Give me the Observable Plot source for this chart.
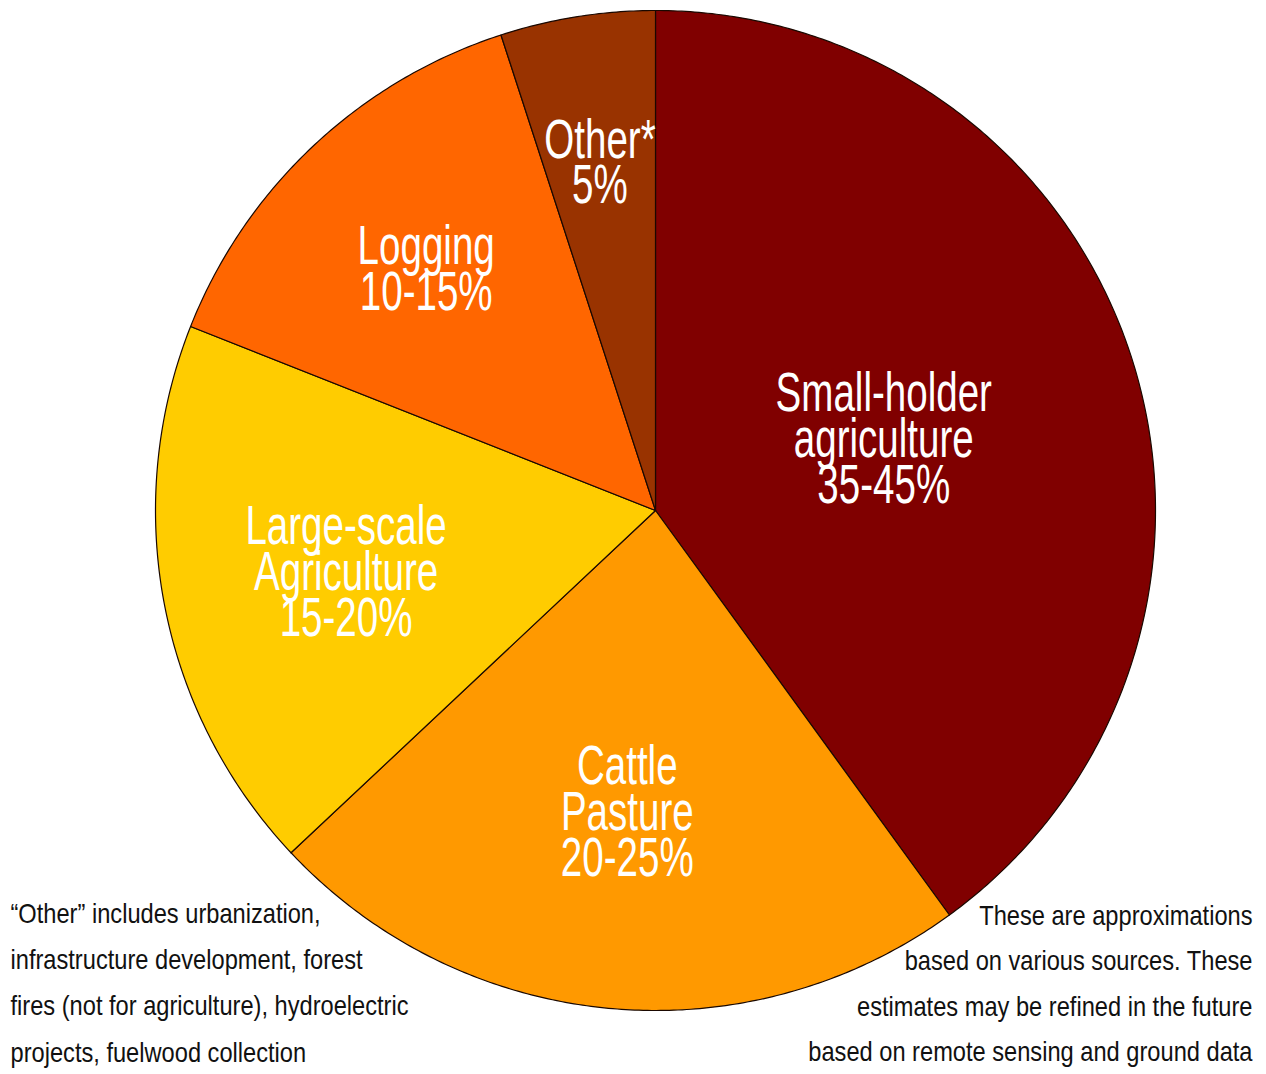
<!DOCTYPE html>
<html><head><meta charset="utf-8">
<script src="https://cdn.jsdelivr.net/npm/d3@7"></script>
<script src="https://cdn.jsdelivr.net/npm/@observablehq/plot@0.6"></script>
<style>
html,body{margin:0;padding:0;background:#fff;overflow:hidden}
svg{display:block}
</style></head><body><div id="chart"></div>
<script>
// ---- data ----
const categories = ["Small-holder agriculture", "Cattle Pasture", "Large-scale Agriculture", "Logging", "Other*"];
const sliceLabels = ["Small-holder\nagriculture\n35-45%", "Cattle\nPasture\n20-25%", "Large-scale\nAgriculture\n15-20%", "Logging\n10-15%", "Other*\n5%"];
const values = [40, 23, 18, 14, 5];
const sliceColors = ["#800000", "#ff9900", "#ffcc00", "#ff6600", "#993300"];
const footLeft = ["\u201COther\u201D includes urbanization,", "infrastructure development, forest", "fires (not for agriculture), hydroelectric", "projects, fuelwood collection"];
const footRight = ["These are approximations", "based on various sources. These", "estimates may be refined in the future", "based on remote sensing and ground data"];

// ---- layout ----
const labelRadius = [0.48, 0.60, 0.63, 0.67, 0.71];
const FONT = "'Liberation Sans', Arial, Helvetica, sans-serif";

const total = d3.sum(values);
let acc = 0;
const slices = categories.map((c, i) => {
  const a0 = acc / total * 2 * Math.PI; acc += values[i];
  const a1 = acc / total * 2 * Math.PI;
  return {c, a0, a1, color: sliceColors[i], label: sliceLabels[i], lr: labelRadius[i]};
});
const pts = [];
for (const s of slices) {
  pts.push({c: s.c, color: s.color, x: 0, y: 0});
  const n = Math.max(2, Math.ceil((s.a1 - s.a0) / (Math.PI / 360)));
  for (let k = 0; k <= n; k++) {
    const a = s.a0 + (s.a1 - s.a0) * k / n;
    pts.push({c: s.c, color: s.color, x: Math.sin(a), y: Math.cos(a)});
  }
  pts.push({c: s.c, color: s.color, x: 0, y: 0});
}
const labelPts = slices.map(s => {
  const a = (s.a0 + s.a1) / 2;
  return {label: s.label, x: s.lr * Math.sin(a), y: s.lr * Math.cos(a)};
});

const chart = Plot.plot({
  width: 1266, height: 1074, margin: 0,
  x: {domain: [-1, 1], range: [155, 1155], axis: null},
  y: {domain: [-1, 1], range: [1010, 10], axis: null},
  color: {type: "identity"},
  style: {background: "#fff", fontFamily: FONT},
  marks: [
    Plot.line(pts, {x: "x", y: "y", z: "c", fill: "color", stroke: "#1a0800", strokeWidth: 1.2, curve: "linear"}),
    Plot.text(labelPts, {x: "x", y: "y", dy: 6, text: "label", fill: "#fff", fontSize: 47, lineHeight: 0.82,
      fontFamily: FONT, lineAnchor: "middle"}),
    Plot.text([footLeft.join("\n")], {text: d => d, frameAnchor: "bottom-left", textAnchor: "start",
      dx: 10, dy: -97, lineAnchor: "middle", fontSize: 28.5, lineHeight: 1.62, fill: "#111", fontFamily: FONT}),
    Plot.text([footRight.join("\n")], {text: d => d, frameAnchor: "bottom-right", textAnchor: "end",
      dx: -14, dy: -96, lineAnchor: "middle", fontSize: 28.5, lineHeight: 1.60, fill: "#111", fontFamily: FONT})
  ]
});
function squeeze(g, sx, sy) {
  if (!g) return;
  g.querySelectorAll("text").forEach(t => {
    let tr = t.getAttribute("transform");
    if (!tr) {
      const x = t.getAttribute("x") || 0, y = t.getAttribute("y") || 0;
      t.removeAttribute("x"); t.removeAttribute("y");
      tr = `translate(${x},${y})`;
    }
    t.setAttribute("transform", tr + ` scale(${sx},${sy})`);
  });
}
const textGroups = chart.querySelectorAll('g[aria-label="text"]');
squeeze(textGroups[0], 0.82, 1.19);
squeeze(textGroups[1], 0.83, 1);
squeeze(textGroups[2], 0.83, 1);
document.getElementById("chart").appendChild(chart);
</script></body></html>
